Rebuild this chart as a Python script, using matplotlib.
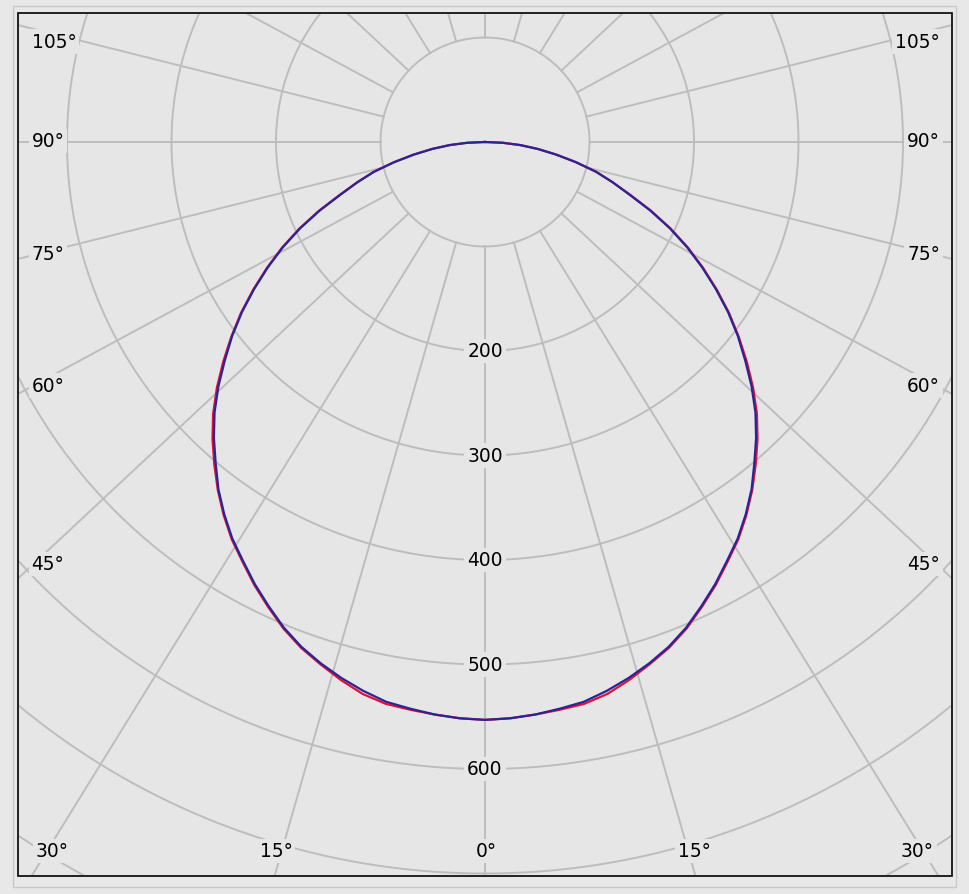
import numpy as np
import matplotlib
matplotlib.use("Agg")
import matplotlib.pyplot as plt
from matplotlib.patches import Rectangle

# ---- data (cd/klm vs gamma angle) ----
gamma = [0, 2.5, 5, 7.5, 10, 12.5, 15, 17.5, 20, 22.5, 25, 27.5, 30, 32.5, 35, 37.5,
         40, 42.5, 45, 47.5, 50, 52.5, 55, 57.5, 60, 62.5, 65, 67.5, 70, 72.5, 75,
         77.5, 80, 82.5, 85, 87.5, 90]
c0_180 = [553, 552, 550, 548, 546, 541, 533, 524, 515, 504, 491, 478, 464, 451, 436, 420,
          403, 386, 368, 348, 327, 306, 285, 263, 241, 219, 196, 172, 148, 128, 110,
          89, 69, 51, 34, 17, 0]
c90_270 = [553, 552, 550, 547, 544, 538, 531, 523, 514, 503, 490, 477, 463, 450, 435, 419,
           401, 384, 366, 346, 325, 305, 284, 262, 240, 218, 195, 171, 147, 128, 110,
           89, 69, 51, 34, 17, 0]
radial_ticks = [200, 300, 400, 500, 600]
grid_circles = [100, 200, 300, 400, 500, 600, 700, 800, 900]
angle_grid = list(range(0, 360, 15))
side_labels = ["105°", "90°", "75°", "60°", "45°"]
side_label_y = [42.5, 142, 255, 386.5, 565]
bottom_labels = ["30°", "15°", "0°", "15°", "30°"]

# ---- layout (pixels) ----
W, H = 969, 895
S = 1.045          # px per cd
CX, CY = 485, 143  # pole position in px (from top-left)
RMAX = 900
K = 1.07           # horizontal skew of the angular grid in the reference
BG = "#e6e6e6"
GRID = "#bdbdbd"

fig = plt.figure(figsize=(W / 100, H / 100), dpi=100)
fig.patch.set_facecolor("#e8e8e8")

def fx(x):
    return x / W

def fy(y):
    return 1 - y / H

outer = Rectangle((fx(12.5), fy(887.5)), (955.5 - 12.5) / W, (887.5 - 6.5) / H,
                  transform=fig.transFigure, fc="none", ec="#c9c9c9", lw=1.0, zorder=-2)
fig.add_artist(outer)
frame = Rectangle((fx(18), fy(877)), (952 - 18) / W, (877 - 14) / H,
                  transform=fig.transFigure, fc=BG, ec="black", lw=1.2, zorder=-1)
fig.add_artist(frame)
clip_rect = Rectangle((fx(19), fy(876)), (951 - 19) / W, (876 - 15) / H,
                      transform=fig.transFigure)

Rpx = RMAX * S
ax = fig.add_axes([(CX - Rpx) / W, (H - CY - Rpx) / H, 2 * Rpx / W, 2 * Rpx / H],
                  projection="polar")
ax.set_zorder(1)
ax.set_theta_zero_location("S")
ax.set_theta_direction(1)
ax.set_rlim(0, RMAX)
ax.grid(False)
ax.set_xticks([])
ax.set_yticks([])
ax.spines["polar"].set_visible(False)
ax.patch.set_alpha(0)

tt = np.linspace(0, 2 * np.pi, 1441)
for r in grid_circles:
    ln, = ax.plot(tt, np.full_like(tt, r), color=GRID, lw=1.4, zorder=1)
    ln.set_clip_path(clip_rect)
for a in angle_grid:
    t = np.radians(a)
    phi = np.arctan2(K * np.sin(t), np.cos(t))
    ln, = ax.plot([phi, phi], [100, 1400], color=GRID, lw=1.4, zorder=1)
    ln.set_clip_path(clip_rect)

g = np.array(gamma, dtype=float)
th = np.radians(np.concatenate([-g[::-1], g[1:]]))
red = np.array(c0_180, dtype=float)
blue = np.array(c90_270, dtype=float)
r_red = np.concatenate([red[::-1], red[1:]])
r_blue = np.concatenate([blue[::-1], blue[1:]])
l1, = ax.plot(th, r_red, color="#e0103c", lw=1.6, zorder=3)
l2, = ax.plot(th, r_blue, color="#2a2596", lw=1.6, zorder=4)
l1.set_clip_path(clip_rect)
l2.set_clip_path(clip_rect)

box = dict(boxstyle="square,pad=0.15", fc=BG, ec="none")
FS = 13.4
for r in radial_ticks:
    ax.text(0, r, str(r), ha="center", va="center", fontsize=FS, color="black",
            bbox=box, zorder=5)

for lab, y in zip(side_labels, side_label_y):
    fig.text(fx(31.5), fy(y), lab, ha="left", va="center", fontsize=FS, bbox=box, zorder=6)
    fig.text(fx(940), fy(y), lab, ha="right", va="center", fontsize=FS, bbox=box, zorder=6)

bx = [36, 276, 486, 694, 934]
bha = ["left", "center", "center", "center", "right"]
for lab, x, h in zip(bottom_labels, bx, bha):
    fig.text(fx(x), fy(852), lab, ha=h, va="center", fontsize=FS, bbox=box, zorder=6)

fig.savefig("out.png", dpi=100, facecolor=fig.get_facecolor())
